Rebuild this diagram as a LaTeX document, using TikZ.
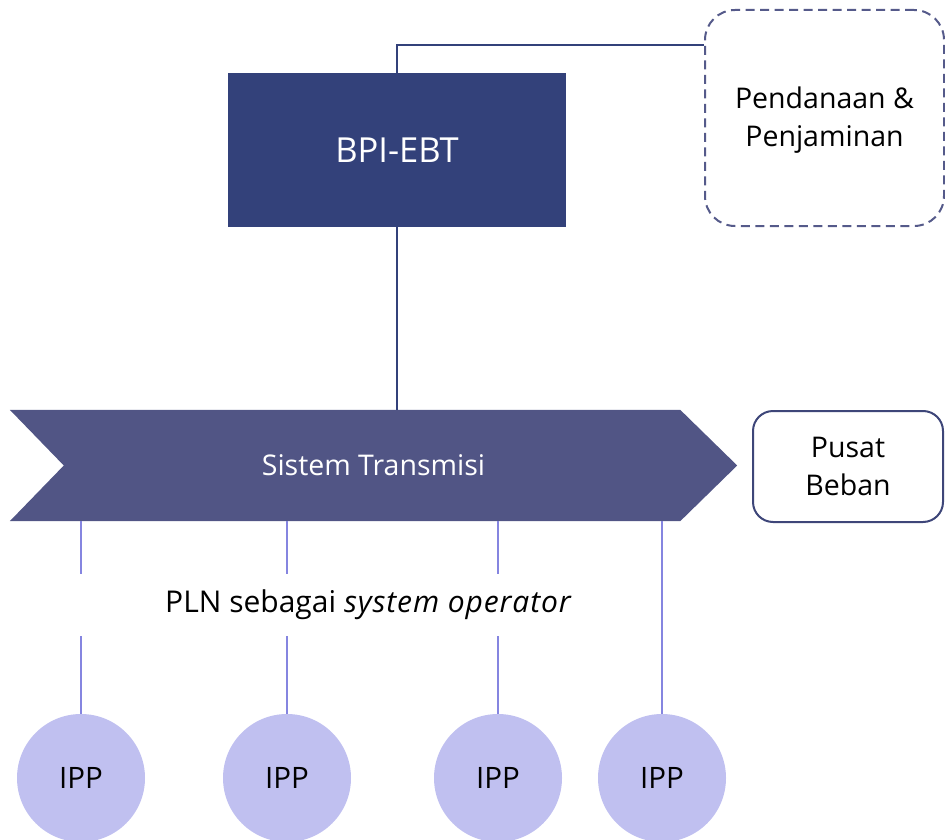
\documentclass[tikz,border=0pt]{standalone}
\usepackage{fontspec}
\setmainfont{Open Sans}
\usetikzlibrary{calc}
\definecolor{navy}{HTML}{33417A}
\definecolor{chev}{HTML}{515585}
\definecolor{dashc}{HTML}{555A8A}
\definecolor{boxline}{HTML}{3E4679}
\definecolor{feed}{HTML}{8585E0}
\definecolor{ippfill}{HTML}{C0C0F0}
\tikzset{
  txt/.style={font=\fontsize{28.5}{38}\selectfont, align=center, inner sep=0pt},
  ipp/.style={circle, fill=ippfill, minimum size=128pt, inner sep=0pt, font=\fontsize{29.5}{34}\selectfont},
  feedline/.style={draw=feed, line width=1.5pt},
  link/.style={draw=navy, line width=2pt},
}
\begin{document}
\begin{tikzpicture}[x=1pt,y=-1pt]
\useasboundingbox (0,0) rectangle (945,840);
% agency block
\node (bpi) [fill=navy, minimum width=338pt, minimum height=153pt, inner sep=0pt,
  text=white, font=\fontsize{34.5}{40}\selectfont] at (397,150) {BPI-EBT};
% funding block
\node (fund) [draw=dashc, dashed, dash pattern=on 9pt off 5.5pt, line width=2pt,
  rounded corners=30pt, minimum width=239pt, minimum height=216pt, inner sep=0pt] at (824.5,118) {};
\node (fundlabel) [txt] at ($(fund.center)+(0,2.5)$) {Pendanaan \&\\Penjaminan};
% transmission chevron
\node (tr) [minimum width=727pt, minimum height=111pt, inner sep=0pt] at (373.5,465.5) {};
\fill[chev] (tr.north west) -- ($(tr.north east)+(-57,0)$) -- (tr.east)
  -- ($(tr.south east)+(-57,0)$) -- (tr.south west) -- ($(tr.west)+(54,0)$) -- cycle;
\node (trlabel) [txt, text=white] at (tr.center) {Sistem Transmisi};
% load centre
\node (load) [draw=boxline, line width=2pt, rounded corners=20pt, fill=white,
  minimum width=190pt, minimum height=111pt, txt] at (848,466.5) {Pusat\\Beban};
% power producers
\node (ipp1) [ipp] at (81,778) {IPP};
\node (ipp2) [ipp] at (287,778) {IPP};
\node (ipp3) [ipp] at (498,778) {IPP};
\node (ipp4) [ipp] at (662,778) {IPP};
% connectors
\draw[link] (bpi.north) |- ($(fund.north west)+(0,36)$);
\draw[link] (bpi.south) -- (bpi.south |- tr.north);
\foreach \i in {1,...,4} \draw[feedline] (ipp\i.north) -- (ipp\i.north |- tr.south);
% operator label over the feeders
\node (pln) [fill=white, minimum width=580pt, minimum height=62pt, inner sep=0pt,
  font=\fontsize{30}{34}\selectfont] at (368,605)
  {PLN sebagai {\itshape\addfontfeature{LetterSpace=3}system operator}};
\end{tikzpicture}
\end{document}
